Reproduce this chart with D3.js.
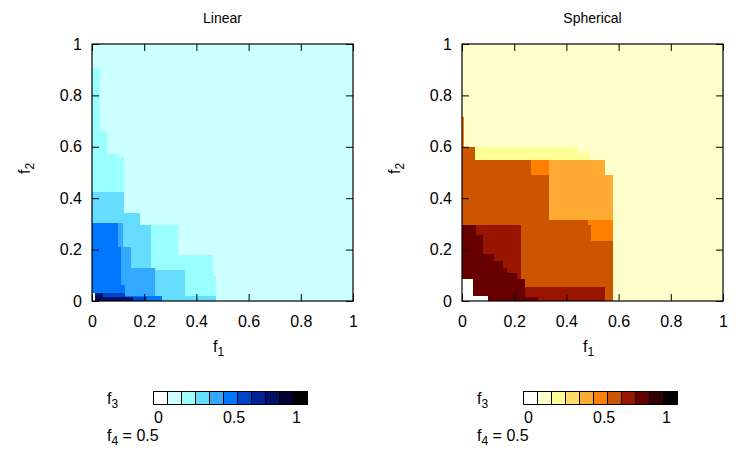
<!DOCTYPE html>
<html>
<head>
<meta charset="utf-8">
<script src="https://cdn.jsdelivr.net/npm/d3@7"></script>
<style>
  body { margin: 0; background: #fff; }
  text { font-family: "Liberation Sans", Arial, sans-serif; fill: #000; }
</style>
</head>
<body>
<svg width="735" height="455"></svg>
<script>
var axisTicks = [0, 0.2, 0.4, 0.6, 0.8, 1];
var legendTicks = [0, 0.5, 1];
var f3Levels = [0, 1, 2, 3, 4, 5, 6, 7, 8, 9, 10];
var f4Value = 0.5;
var panelTitles = ['Linear', 'Spherical'];

// cells: [f1 from, f1 to, f2 from, f2 to, f3 level] - later cells paint over earlier ones
var linearCells = [
  [0, 1, 0, 1, 1],
  [0, 0.03, 0, 0.906, 2],
  [0, 0.056, 0, 0.66, 2],
  [0, 0.096, 0, 0.573, 2],
  [0, 0.124, 0, 0.562, 2],
  [0, 0.329, 0, 0.297, 2],
  [0, 0.463, 0, 0.18, 2],
  [0, 0.476, 0, 0.096, 2],
  [0, 0.124, 0, 0.426, 3],
  [0, 0.182, 0, 0.342, 3],
  [0, 0.227, 0, 0.297, 3],
  [0, 0.355, 0, 0.12, 3],
  [0, 0.476, 0, 0.019, 3],
  [0, 0.117, 0, 0.302, 4],
  [0, 0.151, 0, 0.212, 4],
  [0, 0.241, 0, 0.129, 4],
  [0, 0.1, 0, 0.302, 5],
  [0, 0.11, 0, 0.212, 5],
  [0, 0.113, 0, 0.129, 5],
  [0, 0.128, 0, 0.064, 5],
  [0, 0.267, 0, 0.019, 5],
  [0, 0.128, 0, 0.032, 6],
  [0, 0.209, 0, 0.015, 6],
  [0.01, 0.042, 0.015, 0.032, 8],
  [0.01, 0.158, 0, 0.015, 8],
  [0, 0.01, 0, 0.032, 0]
];

var sphericalCells = [
  [0, 1, 0, 1, 1],
  [0, 0.006, 0.598, 0.715, 5],
  [0, 0.049, 0, 0.598, 6],
  [0, 0.547, 0, 0.549, 6],
  [0, 0.578, 0, 0.472, 6],
  [0.049, 0.446, 0.549, 0.598, 2],
  [0.446, 0.491, 0.549, 0.577, 2],
  [0.332, 0.547, 0.317, 0.549, 4],
  [0.332, 0.578, 0.317, 0.491, 4],
  [0.265, 0.332, 0.491, 0.549, 5],
  [0.483, 0.578, 0.297, 0.317, 5],
  [0.495, 0.578, 0.233, 0.297, 5],
  [0, 0.227, 0, 0.297, 7],
  [0.227, 0.547, 0, 0.055, 7],
  [0, 0.055, 0, 0.297, 8],
  [0, 0.08, 0, 0.258, 8],
  [0, 0.123, 0, 0.181, 8],
  [0, 0.157, 0, 0.155, 8],
  [0, 0.172, 0, 0.13, 8],
  [0, 0.21, 0, 0.11, 8],
  [0, 0.243, 0, 0.084, 8],
  [0, 0.29, 0, 0.015, 8],
  [0, 0.042, 0.015, 0.084, 0],
  [0, 0.1, 0, 0.019, 0]
];

var bluePalette = ['#ffffff', '#ccffff', '#99ffff', '#66ddff', '#33aaff', '#0077ff',
                   '#0044cc', '#002299', '#001166', '#000033', '#000000'];
var heatPalette = ['#ffffff', '#ffffcc', '#ffff99', '#ffdd66', '#ffaa33', '#ff8000',
                   '#cc5500', '#991500', '#660000', '#330000', '#000000'];

var svg = d3.select('svg'),
    pw = 261,
    ph = 257,
    plotTop = 44;

function subLabel(sel, base, sub) {
  sel.append('tspan').text(base);
  sel.append('tspan').attr('dy', 4).attr('font-size', 12).text(sub);
}

function drawPanel(ox, title, cells, palette) {
  var g = svg.append('g').attr('transform', 'translate(' + ox + ',' + plotTop + ')');

  var x = d3.scaleLinear().domain([0, 1]).range([0, pw]),
      y = d3.scaleLinear().domain([0, 1]).range([ph, 0]);

  g.selectAll('rect.cell')
    .data(cells)
    .enter()
    .append('rect')
    .attr('class', 'cell')
    .attr('x', function(d) { return x(d[0]); })
    .attr('width', function(d) { return x(d[1]) - x(d[0]); })
    .attr('y', function(d) { return y(d[3]); })
    .attr('height', function(d) { return y(d[2]) - y(d[3]); })
    .attr('fill', function(d) { return palette[d[4]]; })
    .attr('shape-rendering', 'crispEdges');

  var fmt = d3.format('~g');

  var bottom = g.append('g').attr('transform', 'translate(0,' + ph + ')')
    .call(d3.axisBottom(x).tickValues(axisTicks).tickSize(-7).tickPadding(15).tickFormat(fmt));
  var left = g.append('g')
    .call(d3.axisLeft(y).tickValues(axisTicks).tickSize(-7).tickPadding(10).tickFormat(fmt));
  g.append('g')
    .call(d3.axisTop(x).tickValues(axisTicks).tickSize(-7).tickFormat(''));
  g.append('g').attr('transform', 'translate(' + pw + ',0)')
    .call(d3.axisRight(y).tickValues(axisTicks).tickSize(-7).tickFormat(''));

  g.selectAll('.domain').remove();
  g.selectAll('.tick line').attr('stroke', '#000');
  [bottom, left].forEach(function(a) {
    a.attr('font-size', 16).attr('font-family', '"Liberation Sans", Arial, sans-serif');
  });

  g.append('rect')
    .attr('width', pw)
    .attr('height', ph)
    .attr('fill', 'none')
    .attr('stroke', '#000')
    .attr('stroke-width', 1.2);

  svg.append('text')
    .attr('x', ox + pw / 2)
    .attr('y', 23)
    .attr('text-anchor', 'middle')
    .attr('font-size', 14)
    .text(title);

  svg.append('text')
    .attr('x', ox + pw / 2 - 4)
    .attr('y', 352)
    .attr('text-anchor', 'middle')
    .attr('font-size', 16)
    .call(subLabel, 'f', '1');

  svg.append('text')
    .attr('transform', 'translate(' + (ox - 62) + ',' + (plotTop + ph / 2 - 4) + ') rotate(-90)')
    .attr('text-anchor', 'middle')
    .attr('font-size', 16)
    .call(subLabel, 'f', '2');

  // colour key
  var box = 14,
      kx = ox + 61;

  svg.selectAll('rect.key-' + ox)
    .data(f3Levels)
    .enter()
    .append('rect')
    .attr('class', 'key-' + ox)
    .attr('x', function(d, i) { return kx + i * box; })
    .attr('y', 391)
    .attr('width', box)
    .attr('height', 13)
    .attr('fill', function(d) { return palette[d]; })
    .attr('stroke', '#000')
    .attr('stroke-width', 1)
    .attr('shape-rendering', 'crispEdges');

  var kScale = d3.scaleLinear().domain([0, 1]).range([kx + 1, kx + 139]);

  svg.selectAll('text.klab-' + ox)
    .data(legendTicks)
    .enter()
    .append('text')
    .attr('class', 'klab-' + ox)
    .attr('x', function(d) { return kScale(d); })
    .attr('y', 423)
    .attr('font-size', 16)
    .text(fmt);

  svg.append('text')
    .attr('x', ox + 15)
    .attr('y', 404)
    .attr('font-size', 16)
    .call(subLabel, 'f', '3');

  var f4 = svg.append('text')
    .attr('x', ox + 15)
    .attr('y', 441)
    .attr('font-size', 16);
  subLabel(f4, 'f', '4');
  f4.append('tspan').attr('dy', -4).text(' = ' + f4Value);
}

drawPanel(92, panelTitles[0], linearCells, bluePalette);
drawPanel(462, panelTitles[1], sphericalCells, heatPalette);
</script>
</body>
</html>
